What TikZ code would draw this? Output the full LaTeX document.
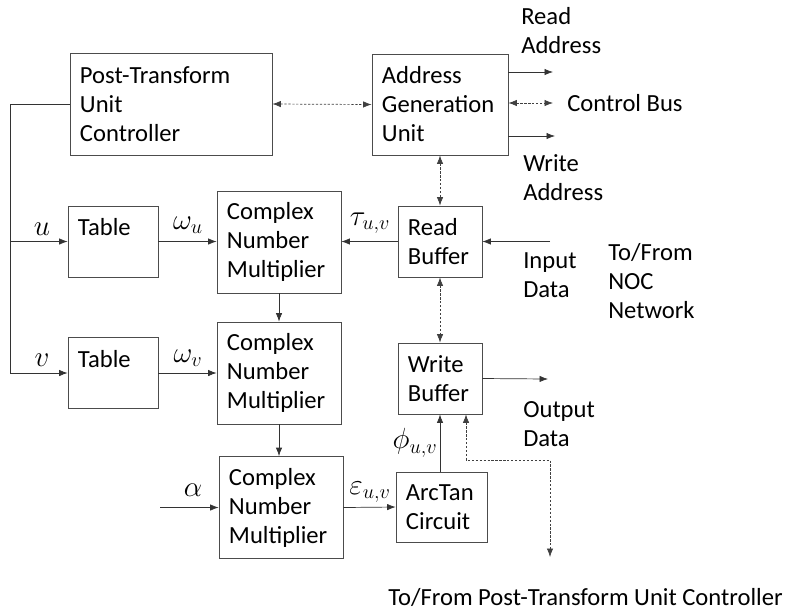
\documentclass[tikz,border=0pt]{standalone}
\usepackage{fontspec}
\setmainfont{Carlito}
\usepackage{tikz}
\usetikzlibrary{arrows,arrows.meta}
\hyphenpenalty=10000
\exhyphenpenalty=10000

\begin{document}
\begin{tikzpicture}[x=0.025cm,y=-0.025cm,
		every node/.style={font=\fontsize{17.5}{20.6}\selectfont},
		tip/.style={-{Latex[length=6pt,width=4.5pt]}},
		blk/.style={draw=black!70,line width=0.5pt,inner xsep=0.25cm,inner ysep=0pt,align=left},
		dotline/.style={draw=black!75,line width=0.5pt,dash pattern=on 1.6pt off 1.2pt,{Latex[length=6pt,width=4.5pt]}-{Latex[length=6pt,width=4.5pt]}},
		sig/.style={draw=black!80,line width=0.5pt,tip},
		sym/.style={font=\fontsize{20}{24}\selectfont},
		lbl/.style={inner sep=0pt,anchor=west,align=left}]
		
		\useasboundingbox (0,0) rectangle (793,614);
		
		% blocks
		\node[blk,text width=4.55cm,minimum height=2.55cm] (ptuc) at (171,104) {Post-Transform\\Unit\\Controller};
		\node[blk,text width=2.90cm,minimum height=2.525cm] (agu) at (440,104.5) {Address\\Generation\\Unit};
		\node[blk,text width=1.75cm,minimum height=1.775cm] (tab1) at (113,241.5) {Table\\~};
		\node[blk,text width=1.75cm,minimum height=1.775cm] (tab2) at (113,373) {Table\\~};
		\node[blk,text width=2.60cm,minimum height=2.55cm] (cnm1) at (279,242) {Complex\\Number\\Multiplier};
		\node[blk,text width=2.60cm,minimum height=2.55cm] (cnm2) at (279,373) {Complex\\Number\\Multiplier};
		\node[blk,text width=2.60cm,minimum height=2.55cm] (cnm3) at (281,507.5) {Complex\\Number\\Multiplier};
		\node[blk,text width=1.60cm,minimum height=1.775cm] (rbuf) at (440,241.5) {Read\\Buffer};
		\node[blk,text width=1.60cm,minimum height=1.775cm] (wbuf) at (440,378.5) {Write\\Buffer};
		\node[blk,text width=1.775cm,minimum height=1.75cm] (arct) at (441.5,507) {ArcTan\\Circuit};
		
		% free ends
		\coordinate (bustop) at (10,104);
		\coordinate (busu) at (10,241.5);
		\coordinate (busbot) at (10,373);
		\coordinate (rdaddr) at (553,72);
		\coordinate (ctlbus) at (553,103);
		\coordinate (wraddr) at (555,136);
		\coordinate (inp) at (550,241.5);
		\coordinate (outd) at (548,379);
		\coordinate (alph) at (160,507.5);
		\coordinate (ctlknee) at (550,460);
		\coordinate (ctlend) at (550,557);
		
		% controller to tables
		\draw[sig] (ptuc.west) -- (bustop) -- (busbot) -- (tab2.west);
		\draw[sig] (busu) -- (tab1.west);
		\node[sym] at (42,229) {$u$};
		\node[sym] at (42,360) {$v$};
		
		\draw[sig] (tab1.east) -- (tab1.east -| cnm1.west);
		\node[sym] at (188,225) {$\omega_u$};
		\draw[sig] (tab2.east) -- (tab2.east -| cnm2.west);
		\node[sym] at (188,358) {$\omega_v$};
		
		\draw[dotline] (ptuc.east) -- (agu.west);
		
		% address unit outputs
		\draw[sig] (agu.east |- rdaddr) -- (rdaddr);
		\draw[dotline] (agu.east |- ctlbus) -- (ctlbus);
		\draw[sig] (agu.east |- wraddr) -- (wraddr);
		\node[lbl] at (521,31) {Read\\Address};
		\node[lbl] at (567,103) {Control Bus};
		\node[lbl] at (523,177.5) {Write\\Address};
		
		\draw[dotline] (agu.south) -- (rbuf.north);
		\draw[dotline] (rbuf.south) -- (wbuf.north);
		
		% data path
		\draw[sig] (inp) -- (rbuf.east);
		\node[lbl] at (523,275) {Input\\Data};
		\node[lbl] at (608,281) {To/From\\NOC\\Network};
		\draw[sig] (rbuf.west) -- (rbuf.west -| cnm1.east);
		\node[sym] at (370,223) {$\tau_{u,v}$};
		
		\draw[sig] (cnm1.south) -- (cnm2.north);
		\draw[sig] (cnm2.south) -- (cnm2.south |- cnm3.north);
		
		\draw[sig] (alph) -- (cnm3.west);
		\node[sym] at (193,490) {$\alpha$};
		\draw[sig] (cnm3.east) -- (arct.west);
		\node[sym] at (370,492) {$\varepsilon_{u,v}$};
		
		\draw[sig] (wbuf.south |- arct.north) -- (wbuf.south);
		\node[sym] at (415,443) {$\phi_{u,v}$};
		
		\draw[sig] (wbuf.east) -- (outd);
		\node[lbl] at (523,424) {Output\\Data};
		
		\draw[dotline] ([xshift=0.65cm]wbuf.south) |- (ctlknee) -- (ctlend);
		\node[lbl] at (388,597) {To/From Post-Transform Unit Controller};
		
	\end{tikzpicture}
\end{document}
